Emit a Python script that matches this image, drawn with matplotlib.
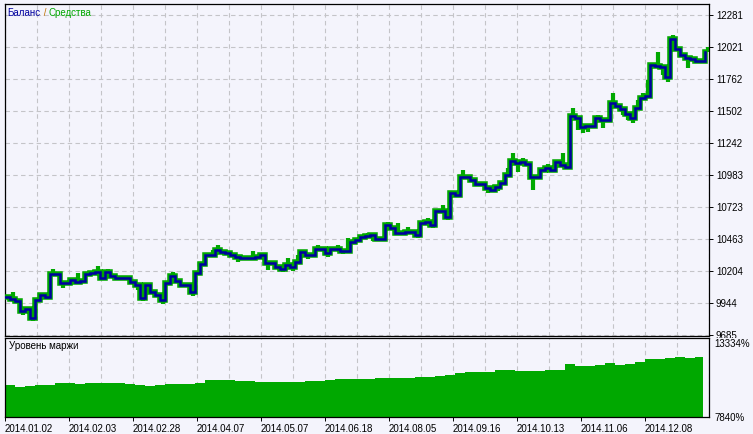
import numpy as np
import matplotlib
matplotlib.use("Agg")
import matplotlib.pyplot as plt
from matplotlib.patches import Rectangle

plt.rcParams['font.family'] = ['Liberation Sans', 'DejaVu Sans']

# ---------------- data ----------------
balance = [9991, 9975, 9960, 9882, 9896, 9820, 9969, 10010, 9996, 10177,
           10180, 10104, 10109, 10131, 10112, 10126, 10177, 10190, 10199, 10145,
           10199, 10164, 10145, 10150, 10150, 10118, 10091, 9983, 10091, 10036,
           10010, 9969, 10109, 10164, 10126, 10091, 10091, 10036, 10185, 10261,
           10334, 10334, 10375, 10360, 10350, 10335, 10320, 10307, 10307, 10307,
           10320, 10334, 10267, 10267, 10234, 10218, 10253, 10239, 10280, 10361,
           10334, 10334, 10380, 10380, 10353, 10380, 10380, 10369, 10369, 10442,
           10456, 10483, 10491, 10496, 10461, 10461, 10577, 10551, 10515, 10515,
           10523, 10523, 10496, 10596, 10604, 10577, 10691, 10691, 10645, 10834,
           10821, 10969, 10969, 10942, 10910, 10910, 10875, 10861, 10888, 10915,
           10983, 11099, 11078, 11091, 11072, 10969, 10969, 11024, 11042, 11024,
           11086, 11064, 11051, 11462, 11443, 11375, 11381, 11381, 11443, 11429,
           11429, 11570, 11545, 11515, 11480, 11443, 11524, 11605, 11624, 11875,
           11867, 11862, 11780, 12086, 12005, 11957, 11933, 11924, 11908, 11908,
           11981]

equity = list(balance)
equity_spikes = {1: 10036, 3: 9847, 5: 9798, 9: 10220, 11: 10066, 14: 10188,
                 18: 10245, 20: 10220, 26: 10050, 27: 9960, 31: 9936, 33: 10196,
                 37: 10002, 41: 10375, 42: 10415, 46: 10277, 49: 10366, 52: 10212,
                 55: 10200, 56: 10310, 57: 10205, 58: 10334, 60: 10300, 62: 10415,
                 64: 10320, 66: 10415, 67: 10340, 68: 10472, 72: 10515, 73: 10450,
                 76: 10604, 78: 10593, 80: 10564, 82: 10470, 84: 10634, 85: 10551,
                 87: 10740, 88: 10620, 91: 11024, 96: 10837, 98: 10850, 100: 11037,
                 101: 11159, 102: 11010, 103: 11118, 105: 10861, 108: 11070,
                 111: 11159, 113: 11524, 114: 11350, 115: 11320, 116: 11330,
                 118: 11470, 119: 11362, 121: 11646, 123: 11470, 124: 11429,
                 125: 11402, 126: 11590, 127: 11646, 128: 11754, 130: 11983,
                 131: 11794, 132: 11740, 133: 12119, 136: 11851, 140: 12024}
for k, v in equity_spikes.items():
    equity[k] = v

margin_level = [10200, 10090, 10140, 10216, 10250, 10340, 10330, 10320, 10380, 10400,
                10340, 10330, 10290, 10250, 10165, 10200, 10290, 10280, 10300, 10390,
                10590, 10600, 10560, 10515, 10500, 10460, 10470, 10440, 10415, 10470,
                10535, 10540, 10600, 10635, 10640, 10660, 10660, 10700, 10760, 10740,
                10710, 10810, 10830, 10905, 10980, 11080, 11205, 11200, 11170, 11300,
                11330, 11280, 11270, 11280, 11330, 11320, 11750, 11660, 11650, 11700,
                11825, 11720, 11760, 11945, 12140, 12145, 12250, 12300, 12195, 12280]

y_tick_labels = ['9685', '9944', '10204', '10463', '10723', '10983',
                 '11242', '11502', '11762', '12021', '12281']
margin_tick_labels = ['7840%', '13334%']
date_labels = ['2014.01.02', '2014.02.03', '2014.02.28', '2014.04.07', '2014.05.07',
               '2014.06.18', '2014.08.05', '2014.09.16', '2014.10.13', '2014.11.06',
               '2014.12.08']

# ---------------- style ----------------
BG = '#F4F4FC'
GREEN = '#00A800'
BLUE = '#0000A0'
GRID = '#C4C4C8'
W, H = 753, 434

fig = plt.figure(figsize=(W / 100, H / 100), dpi=100, facecolor=BG)

def frac(x0, y0, x1, y1):
    return [x0 / W, 1 - y1 / H, (x1 - x0) / W, (y1 - y0) / H]

ax = fig.add_axes(frac(4.5, 4, 709, 335.5), facecolor=BG)
ax2 = fig.add_axes(frac(4.5, 338, 709, 417), facecolor=BG)
ax2.set_zorder(3)

n = len(balance)
xs = np.arange(n)
px_per_idx = 5.0
xmin = -0.5 / px_per_idx
xmax = xmin + (709 - 4.5) / px_per_idx

# main y scale
yvals = [float(v) for v in y_tick_labels]
step = (yvals[-1] - yvals[0]) / 10
per_px = step / 32
ax.set_ylim(yvals[0] - 0.5 * per_px, yvals[0] + 331 * per_px)
ax.set_xlim(xmin, xmax)

grid_step = 32 / px_per_idx
vgrid = np.arange(0, xmax + 0.01, grid_step)
ax.set_xticks(vgrid)
ax.set_xticklabels([])
ax.tick_params(axis='x', length=0)
ax.set_yticks(yvals)
ax.set_yticklabels(y_tick_labels)
ax.yaxis.tick_right()
ax.tick_params(axis='y', direction='out', length=3, width=0.7, pad=2,
               labelsize=7, colors='black')
ax.grid(True, color=GRID, linestyle=(0, (4, 3)), linewidth=0.8)
for s in ax.spines.values():
    s.set_color('black')
    s.set_linewidth(0.9)

# equity: green band along the curve plus spikes where it departs from balance
eq = np.array(equity, dtype=float)
bal = np.array(balance, dtype=float)
ax.plot(xs, balance, color=GREEN, lw=4.0, drawstyle='steps-post',
        solid_joinstyle='miter', zorder=3)
spk = eq != bal
ax.vlines(xs[spk] + 0.5, np.minimum(eq, bal)[spk], np.maximum(eq, bal)[spk],
          color=GREEN, lw=3.0, zorder=3)
ax.plot(xs, balance, color=BLUE, lw=1.8, drawstyle='steps-post',
        solid_joinstyle='miter', zorder=4)

t1 = ax.text(3 / 700, 1 - 9 / 331, 'Баланс', transform=ax.transAxes,
             color=BLUE, fontsize=7, va='center', ha='left', zorder=6)
t2 = ax.annotate(' / ', xy=(1, 0), xycoords=t1, va='bottom', ha='left',
                 color='#C07000', fontsize=7, zorder=6)
t3 = ax.annotate('Средства', xy=(1, 0), xycoords=t2, va='bottom', ha='left',
                 color=GREEN, fontsize=7, zorder=6)

# lower panel
mvals = [float(v.rstrip('%')) for v in margin_tick_labels]
mper_px = (mvals[1] - mvals[0]) / 74
ax2.set_ylim(mvals[0], mvals[1] + 5 * mper_px)
ax2.set_xlim(xmin, xmax)
mx = np.arange(len(margin_level)) * 2.0
ax2.fill_between(list(mx) + [n - 1 - 0.4], list(margin_level) + [margin_level[-1]],
                 mvals[0] - 100, step='post', color=GREEN, lw=0, zorder=2)
ax2.set_yticks(mvals)
ax2.set_yticklabels(margin_tick_labels)
ax2.yaxis.tick_right()
ax2.tick_params(axis='y', direction='out', length=0, pad=4, labelsize=7)
date_pos = np.arange(len(date_labels)) * 2 * grid_step
ax2.set_xticks(vgrid, minor=True)
ax2.set_xticks(date_pos)
ax2.set_xticklabels(date_labels, ha='left')
ax2.tick_params(axis='x', which='major', direction='out', length=3, width=0.7,
                pad=2, labelsize=7)
ax2.tick_params(axis='x', which='minor', length=0)
ax2.grid(True, which='both', axis='x', color=GRID, linestyle=(0, (4, 3)), linewidth=0.8)
ax2.set_axisbelow(True)
for s in ax2.spines.values():
    s.set_color('black')
    s.set_linewidth(0.9)
ax2.text(4 / 700, 1 - 8 / 79, 'Уровень маржи', transform=ax2.transAxes,
         fontsize=7, va='center', ha='left', color='black', zorder=5)

# hide the part of the lowest main tick label that falls below the main panel
fig.patches.append(Rectangle((709.5 / W, 0), 1 - 709.5 / W, 1 - 338 / H,
                             transform=fig.transFigure, facecolor=BG,
                             edgecolor='none', zorder=2))

fig.savefig('out.png', dpi=100, facecolor=BG)
